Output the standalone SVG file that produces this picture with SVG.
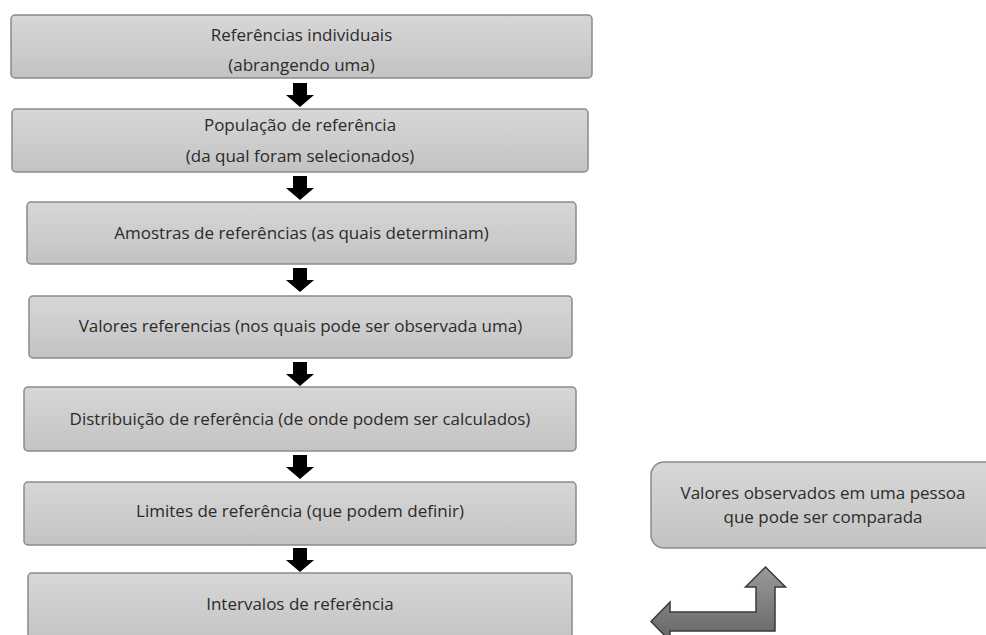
<svg xmlns="http://www.w3.org/2000/svg" width="986" height="635" viewBox="0 0 986 635">
<defs>
<linearGradient id="boxg" x1="0" y1="0" x2="0" y2="1">
<stop offset="0" stop-color="#d7d7d7"/>
<stop offset="1" stop-color="#c3c3c3"/>
</linearGradient>
<linearGradient id="bentg" x1="0" y1="0" x2="0" y2="1">
<stop offset="0" stop-color="#9a9a9a"/>
<stop offset="1" stop-color="#666666"/>
</linearGradient>
</defs>
<style>
.box{fill:url(#boxg);stroke:#8a8a8a;stroke-width:1.5}
.t{font-family:"Open Sans","Noto Sans","Liberation Sans",sans-serif;font-size:17px;fill:#2b2b2b;text-anchor:middle}
.down{fill:#000000}
.bent{fill:url(#bentg);stroke:#3a3a3a;stroke-width:1.5;stroke-linejoin:miter}
</style>
<rect width="986" height="635" fill="#ffffff"/>
<g id="connectors">
<path class="down" d="M293,83 H307 V95 H314 L300,107 L286,95 H293 Z"/>
<path class="down" d="M293,176 H307 V188 H314 L300,200 L286,188 H293 Z"/>
<path class="down" d="M293,268 H307 V280 H314 L300,292 L286,280 H293 Z"/>
<path class="down" d="M293,362 H307 V374 H314 L300,386 L286,374 H293 Z"/>
<path class="down" d="M293,455 H307 V467 H314 L300,479 L286,467 H293 Z"/>
<path class="down" d="M293,548 H307 V560 H314 L300,572 L286,560 H293 Z"/>
<path class="bent" d="M651,621.5 L670,602 L670,612 L756,612 L756,587 L745.5,587 L765.5,567 L785.5,587 L775,587 L775,631 L670,631 L670,641 Z"/>
</g>
<g id="n1">
<rect class="box" x="11" y="15" width="581" height="63" rx="4"/>
<text class="t" x="301.5" y="41">Referências individuais</text>
<text class="t" x="301.5" y="71">(abrangendo uma)</text>
</g>
<g id="n2">
<rect class="box" x="12" y="109" width="576" height="63" rx="4"/>
<text class="t" x="300" y="131">População de referência</text>
<text class="t" x="300" y="162">(da qual foram selecionados)</text>
</g>
<g id="n3">
<rect class="box" x="27" y="202" width="549" height="62" rx="4"/>
<text class="t" x="301.5" y="239">Amostras de referências (as quais determinam)</text>
</g>
<g id="n4">
<rect class="box" x="29" y="296" width="543" height="62" rx="4"/>
<text class="t" x="300.5" y="332">Valores referencias (nos quais pode ser observada uma)</text>
</g>
<g id="n5">
<rect class="box" x="24" y="387" width="552" height="64" rx="4"/>
<text class="t" x="300" y="425">Distribuição de referência (de onde podem ser calculados)</text>
</g>
<g id="n6">
<rect class="box" x="24" y="482" width="552" height="63" rx="4"/>
<text class="t" x="300" y="517">Limites de referência (que podem definir)</text>
</g>
<g id="n7">
<rect class="box" x="28" y="573" width="544" height="70" rx="4"/>
<text class="t" x="300" y="610">Intervalos de referência</text>
</g>
<g id="n8">
<rect class="box" x="651" y="462" width="360" height="86" rx="13"/>
<text class="t" x="823" y="499">Valores observados em uma pessoa</text>
<text class="t" x="823" y="523">que pode ser comparada</text>
</g>
</svg>
